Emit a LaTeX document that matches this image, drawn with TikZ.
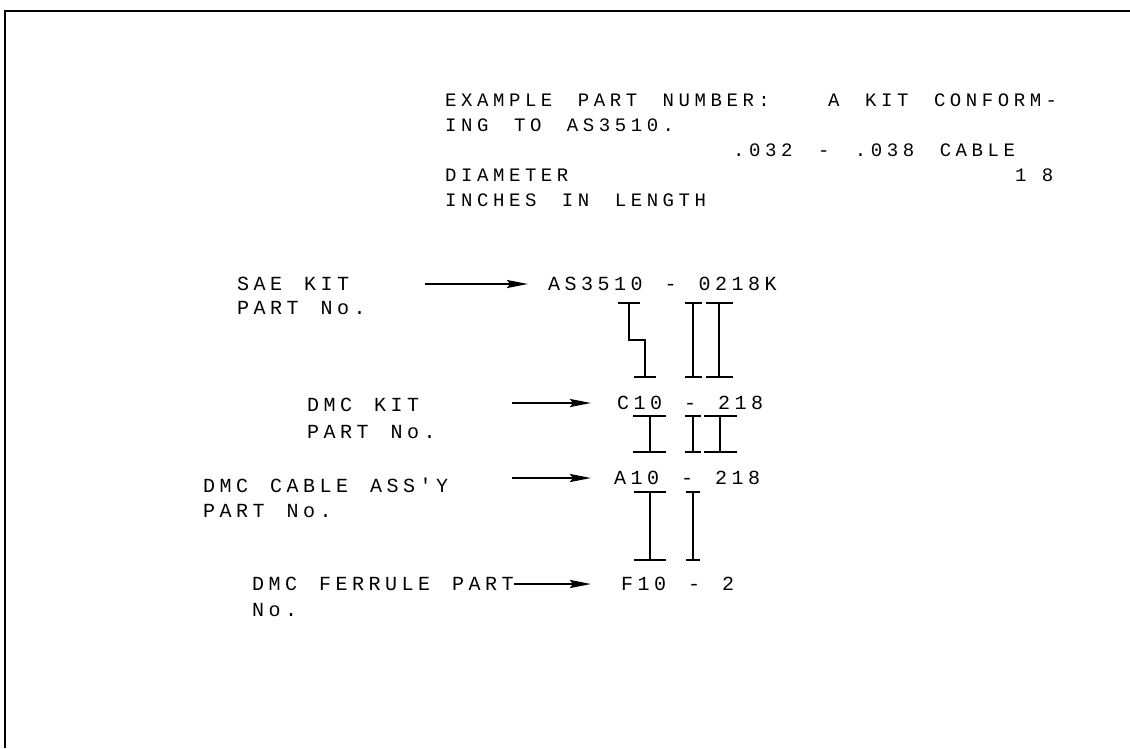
\documentclass[tikz,border=0pt]{standalone}
\usepackage{fontspec}
\usetikzlibrary{arrows.meta}
\newfontfamily\monoa[LetterSpace=24,WordSpace={1.6,0,0}]{Liberation Mono}
\newfontfamily\monob[LetterSpace=22.5,WordSpace={1.33,0,0}]{Liberation Mono}
\newfontfamily\monow[LetterSpace=80]{Liberation Mono}
\begin{document}
\begin{tikzpicture}[x=1pt,y=-1pt,
  up/.style={anchor=base west,inner sep=0pt,font=\monoa\fontsize{19}{19}\selectfont},
  lo/.style={anchor=base west,inner sep=0pt,font=\monob\fontsize{20}{20}\selectfont},
  arr/.style={line width=2.2pt,-{Stealth[length=21pt,width=8pt,inset=3pt]}},
  ibeam/.style={line width=2.6pt},
  frame/.style={line width=2.5pt}]
\useasboundingbox (0,0) rectangle (1130,748);
% frame
\coordinate (f1) at (1130,11);
\coordinate (f2) at (5,11);
\coordinate (f3) at (5,748);
\draw[frame] (f1) -- (f2) -- (f3);
% header text
\node[up] (t1a) at (445,106) {EXAMPLE PART NUMBER:};
\node[up] (t1b) at (828,106) {A KIT CONFORM-};
\node[up] (t2) at (445,131) {ING TO AS3510.};
\node[up] (t3) at (733,156) {.032 - .038 CABLE};
\node[up] (t4) at (445,181) {DIAMETER};
\node[anchor=base west,inner sep=0pt,font=\monow\fontsize{19}{19}\selectfont] (t4b) at (1015,181) {18};
\node[up] (t5) at (445,206) {INCHES IN LENGTH};
% labels
\node[lo] (l1a) at (237,290) {SAE KIT};
\node[lo] (l1b) at (237,314) {PART No.};
\node[lo] (l2a) at (307,411) {DMC KIT};
\node[lo] (l2b) at (307,438) {PART No.};
\node[lo] (l3a) at (203,492) {DMC CABLE ASS'Y};
\node[lo] (l3b) at (203,517) {PART No.};
\node[lo] (l4a) at (252,590) {DMC FERRULE PART};
\node[lo] (l4b) at (252,616) {No.};
% part numbers
\node[lo] (p1) at (548,290) {AS3510 - 0218K};
\node[lo] (p2) at (617,409) {C10 - 218};
\node[lo] (p3) at (614,484) {A10 - 218};
\node[lo] (p4) at (621,590) {F10 - 2};
% arrows
\coordinate (a1s) at (425,284); \coordinate (a1e) at (528,284);
\coordinate (a2s) at (512,403); \coordinate (a2e) at (591,403);
\coordinate (a3s) at (512,478); \coordinate (a3e) at (591,478);
\coordinate (a4e) at (591,584);
\draw[arr] (a1s) -- (a1e);
\draw[arr] (a2s) -- (a2e);
\draw[arr] (a3s) -- (a3e);
\draw[arr] (l4a.east |- a4e) -- (a4e);
% I-beams SAE -> C10
\draw[ibeam] (618,303) -- (640,303) (629,303) -- (629,340) -- (645,340) -- (645,377) (634,377) -- (656,377);
\draw[ibeam] (685,303) -- (702,303) (693,303) -- (693,377) (685,377) -- (702,377);
\draw[ibeam] (706,303) -- (733,303) (719,303) -- (719,377) (706,377) -- (733,377);
% C10 -> A10
\draw[ibeam] (633,416) -- (666,416) (650,416) -- (650,452) (633,452) -- (666,452);
\draw[ibeam] (685,416) -- (701,416) (693,416) -- (693,452) (685,452) -- (701,452);
\draw[ibeam] (704,416) -- (737,416) (720,416) -- (720,452) (704,452) -- (737,452);
% A10 -> F10
\draw[ibeam] (634,492) -- (666,492) (650,492) -- (650,560) (634,560) -- (666,560);
\draw[ibeam] (686,492) -- (700,492) (693,492) -- (693,560) (686,560) -- (700,560);
\end{tikzpicture}
\end{document}
